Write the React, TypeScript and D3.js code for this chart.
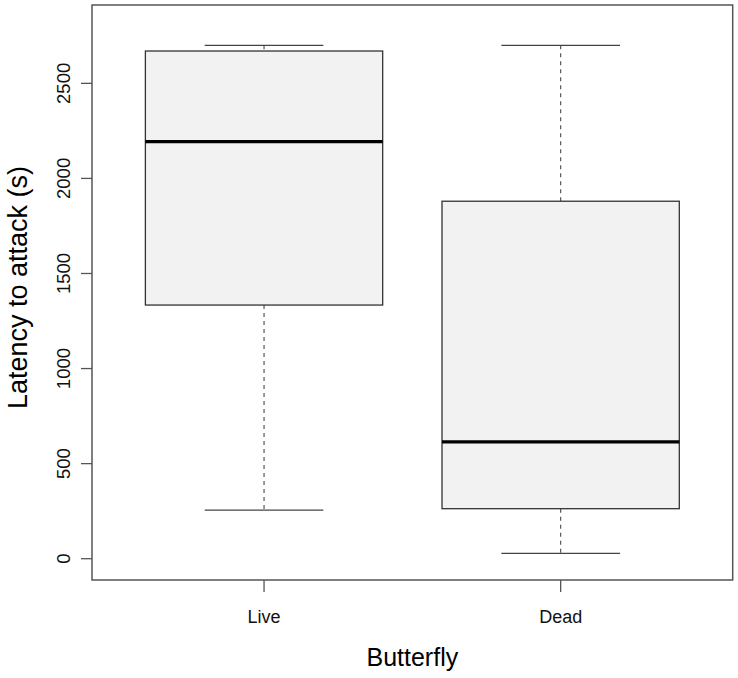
import React from 'react';
import * as d3 from 'd3';

// boxplot summary per group
const groups = ['Live', 'Dead'];
const lowerWhisker = [256, 28];
const q1 = [1334, 263];
const median = [2193, 614];
const q3 = [2670, 1880];
const upperWhisker = [2700, 2700];
const yTicks = [0, 500, 1000, 1500, 2000, 2500];

const W = 738;
const H = 678;
const plot = { left: 92, right: 732.7, top: 5, bottom: 580 };
const font = '"Liberation Sans", Arial, sans-serif';

export default function App() {
  // R style: ylim c(0, 2800) padded by 4%, groups at 1..n
  const y = d3.scaleLinear().domain([-112, 2912]).range([plot.bottom, plot.top]);
  const x = d3.scaleLinear().domain([0.42, 2.58]).range([plot.left, plot.right]);
  const boxHalf = x(1.4) - x(1);
  const capHalf = boxHalf / 2;

  return (
    <svg
      width={W}
      height={H}
      style={{ position: 'absolute', left: 0, top: 0, background: '#fff' }}
      fontFamily={font}
    >
      {groups.map((g, i) => {
        const cx = x(i + 1);
        return (
          <g key={g}>
            {/* whiskers */}
            <line x1={cx} x2={cx} y1={y(upperWhisker[i])} y2={y(q3[i])}
              stroke="#555" strokeWidth={1.2} strokeDasharray="4,4" />
            <line x1={cx} x2={cx} y1={y(q1[i])} y2={y(lowerWhisker[i])}
              stroke="#555" strokeWidth={1.2} strokeDasharray="4,4" />
            <line x1={cx - capHalf} x2={cx + capHalf} y1={y(upperWhisker[i])} y2={y(upperWhisker[i])}
              stroke="#444" strokeWidth={1.3} />
            <line x1={cx - capHalf} x2={cx + capHalf} y1={y(lowerWhisker[i])} y2={y(lowerWhisker[i])}
              stroke="#444" strokeWidth={1.3} />
            {/* box */}
            <rect x={cx - boxHalf} y={y(q3[i])} width={boxHalf * 2} height={y(q1[i]) - y(q3[i])}
              fill="#f2f2f2" stroke="#333" strokeWidth={1.3} />
            <line x1={cx - boxHalf} x2={cx + boxHalf} y1={y(median[i])} y2={y(median[i])}
              stroke="#000" strokeWidth={3.2} />
          </g>
        );
      })}

      {/* frame */}
      <rect x={plot.left} y={plot.top} width={plot.right - plot.left} height={plot.bottom - plot.top}
        fill="none" stroke="#555" strokeWidth={1.5} />

      {/* y axis */}
      {yTicks.map((t) => (
        <g key={t}>
          <line x1={plot.left} x2={plot.left - 11} y1={y(t)} y2={y(t)} stroke="#555" strokeWidth={1.3} />
          <text transform={`translate(70,${y(t)}) rotate(-90)`} textAnchor="middle" fontSize={18.5} fill="#111">
            {t}
          </text>
        </g>
      ))}

      {/* x axis */}
      {groups.map((g, i) => (
        <g key={g}>
          <line x1={x(i + 1)} x2={x(i + 1)} y1={plot.bottom} y2={plot.bottom + 12} stroke="#555" strokeWidth={1.3} />
          <text x={x(i + 1)} y={623} textAnchor="middle" fontSize={18} fill="#111">{g}</text>
        </g>
      ))}

      <text x={(plot.left + plot.right) / 2} y={666} textAnchor="middle" fontSize={25} fill="#000">
        Butterfly
      </text>
      <text transform={`translate(27,${(plot.top + plot.bottom) / 2 - 5}) rotate(-90)`} textAnchor="middle"
        fontSize={27} fill="#000">
        Latency to attack (s)
      </text>
    </svg>
  );
}
